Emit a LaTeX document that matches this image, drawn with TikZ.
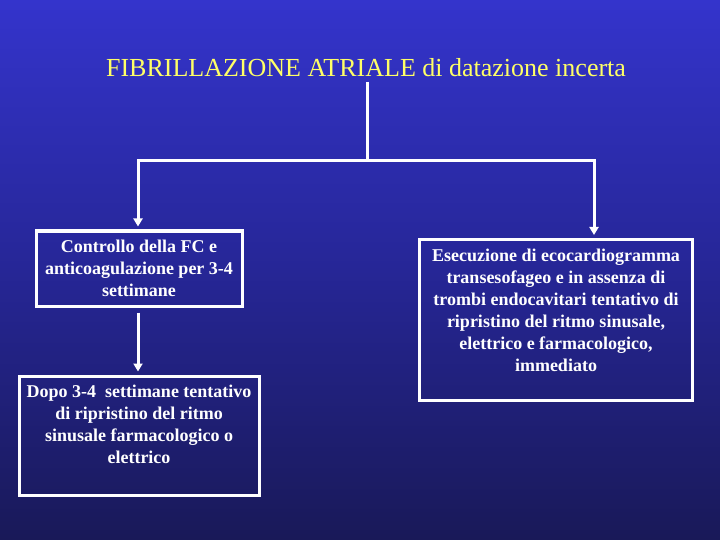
\documentclass[tikz,border=0pt]{standalone}
\usepackage{fontspec}
\setmainfont{Liberation Serif}
\usetikzlibrary{arrows.meta}
\definecolor{bgtop}{RGB}{52,52,204}
\definecolor{bgmid}{RGB}{38,38,150}
\definecolor{bgbot}{RGB}{25,25,88}
\definecolor{titleyellow}{RGB}{255,255,102}
\tikzset{
  boxframe/.style={draw=white, line width=3pt, inner sep=0pt},
  boxtext/.style={anchor=north, inner sep=0pt, text=white, align=center,
    font=\rmfamily\bfseries\fontsize{18}{22}\selectfont},
  conn/.style={draw=white, line width=3pt},
  arr/.style={conn, -{Triangle[width=9pt,length=8pt]}}
}
\begin{document}
\begin{tikzpicture}[x=1pt,y=-1pt]
\useasboundingbox (0,0) rectangle (720,540);
\shade[top color=bgtop, bottom color=bgbot, middle color=bgmid] (0,0) rectangle (720,540);

\node[text=titleyellow, font=\rmfamily\fontsize{26}{30}\selectfont, inner sep=0pt, anchor=base] (title) at (366,77) {FIBRILLAZIONE ATRIALE di datazione incerta};

\node[boxframe, minimum width=206pt, minimum height=75pt] (b1) at (139,268.5) {};
\node[boxframe, minimum width=240pt, minimum height=119pt] (b2) at (139,435.5) {};
\node[boxframe, minimum width=273pt, minimum height=161pt] (b3) at (556,320) {};

\node[boxtext] (t1) at ([yshift=-10pt]b1.north) {Controllo della FC e\\anticoagulazione per 3-4\\settimane};
\node[boxtext] (t2) at ([yshift=-10pt]b2.north) {Dopo 3-4 \ settimane tentativo\\di ripristino del ritmo\\sinusale farmacologico o\\elettrico};
\node[boxtext] (t3) at ([yshift=-11pt]b3.north) {Esecuzione di ecocardiogramma\\transesofageo e in assenza di\\trombi endocavitari tentativo di\\ripristino del ritmo sinusale,\\elettrico e farmacologico,\\immediato};

\coordinate (j) at (367,161);
\coordinate (jl) at (138,161);
\coordinate (jr) at (594,161);
\coordinate (tb) at (367,82);

\draw[conn] (tb) -- (j);
\draw[conn, line cap=rect] (jl) -- (jr);
\draw[arr, shorten >=3pt] (jl) -- (jl |- b1.north);
\draw[arr, shorten >=3pt] (jr) -- (jr |- b3.north);
\draw[arr, shorten <=5pt, shorten >=3pt] (jl |- b1.south) -- (jl |- b2.north);
\end{tikzpicture}
\end{document}
